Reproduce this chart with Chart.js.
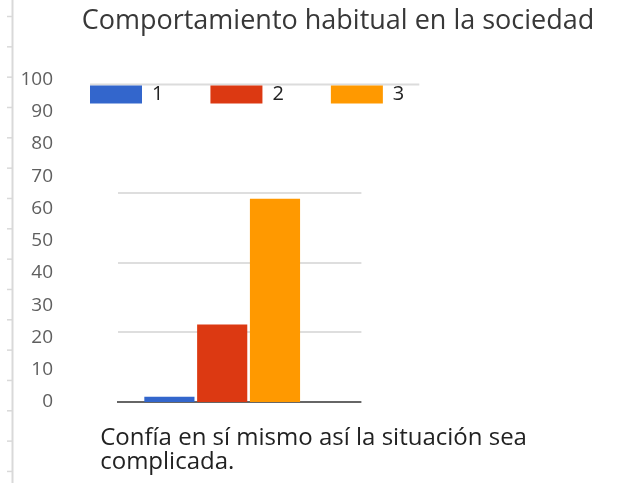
<!DOCTYPE html>
<html>
<head>
<meta charset="utf-8">
<script src="https://cdn.jsdelivr.net/npm/chart.js@4/dist/chart.umd.min.js"></script>
<style>
  html, body { margin: 0; padding: 0; background: #ffffff; }
  #wrap { width: 619px; height: 483px; position: relative; }
</style>
</head>
<body>
<div id="wrap"><canvas id="chart"></canvas></div>
<script>
// Chart content
const chartTitle = "Comportamiento habitual en la sociedad";
const categories = [["Confía en sí mismo así la situación sea", "complicada."]];
const seriesNames = ["1", "2", "3"];
const series1 = [1.6];
const series2 = [24];
const series3 = [63];
const seriesData = [series1, series2, series3];
const seriesColors = ["#3366cc", "#dc3912", "#ff9900"];

// Value axis
const yMin = 0;
const yMax = 100;
const yStep = 10;
// Horizontal guide lines across the plot
const guideValues = [0, 21.6, 43.2, 64.8];

// Layout offsets for the header pieces
const titleShift = 57;
const legendShift = 43;
const legendRowHeight = 80;

const decorPlugin = {
  id: "decor",
  afterLayout(chart) {
    // move the title and legend sideways, and let the legend row overlap the plot top
    const t = chart.titleBlock;
    if (t) { t.left += titleShift; t.width = t.right - t.left; }
    const lg = chart.legend;
    if (lg) {
      lg.left += legendShift;
      lg.width = lg.right - lg.left;
      lg.bottom = lg.top + legendRowHeight;
      lg.height = legendRowHeight;
    }
  },
  beforeDraw(chart) {
    const ctx = chart.ctx;
    const h = chart.height;
    ctx.save();
    // light ruler down the left edge
    ctx.strokeStyle = "#d9d9d9";
    ctx.lineWidth = 2;
    ctx.beginPath();
    ctx.moveTo(12.5, 0);
    ctx.lineTo(12.5, h);
    ctx.stroke();
    ctx.lineWidth = 1.5;
    for (let y = 16.5; y < h; y += 30.33) {
      ctx.beginPath();
      ctx.moveTo(7, y);
      ctx.lineTo(12, y);
      ctx.stroke();
    }
    // faint rule behind the legend row
    const boxes = chart.legend && chart.legend.legendHitBoxes;
    if (boxes && boxes.length) {
      const first = boxes[0];
      const last = boxes[boxes.length - 1];
      ctx.strokeStyle = "#dcdcdc";
      ctx.lineWidth = 2;
      ctx.beginPath();
      ctx.moveTo(first.left, first.top);
      ctx.lineTo(last.left + last.width + 15, first.top);
      ctx.stroke();
    }
    ctx.restore();
  }
};

new Chart(document.getElementById("chart"), {
  type: "bar",
  data: {
    labels: categories,
    datasets: seriesNames.map((name, i) => ({
      label: name,
      data: seriesData[i],
      backgroundColor: seriesColors[i],
      borderWidth: 0,
      categoryPercentage: 0.76,
      barPercentage: 0.95
    }))
  },
  options: {
    responsive: true,
    maintainAspectRatio: false,
    animation: false,
    layout: { padding: 0 },
    plugins: {
      title: {
        display: true,
        text: chartTitle,
        color: "#383838",
        font: { family: "'Open Sans', sans-serif", size: 27, weight: "normal", lineHeight: 1.2 },
        padding: { top: 5, bottom: 0 }
      },
      legend: {
        display: true,
        position: "top",
        align: "start",
        maxHeight: 1,
        labels: {
          boxWidth: 52,
          boxHeight: 18,
          padding: 47,
          color: "#222222",
          font: { family: "'Open Sans', sans-serif", size: 20 }
        }
      },
      tooltip: { enabled: false }
    },
    scales: {
      x: {
        position: "bottom",
        z: 1,
        grid: { display: false },
        border: { display: true, color: "#666666", width: 2 },
        ticks: {
          align: "start",
          labelOffset: -122,
          padding: 16,
          maxRotation: 0,
          minRotation: 0,
          autoSkip: false,
          color: "#222222",
          font: { family: "'Open Sans', sans-serif", size: 24, lineHeight: 1.0 }
        },
        afterFit(scale) { scale.height = 81; scale.paddingLeft = 0; scale.paddingRight = 0; }
      },
      xTop: {
        type: "category",
        position: "top",
        display: true,
        grid: { display: false },
        border: { display: false },
        ticks: { display: false },
        afterFit(scale) { scale.height = 41; scale.paddingLeft = 0; scale.paddingRight = 0; }
      },
      y: {
        position: "left",
        min: yMin,
        max: yMax,
        grid: { display: false },
        border: { display: false },
        ticks: {
          stepSize: yStep,
          padding: 57,
          color: "#5f5f5f",
          font: { family: "'Open Sans', sans-serif", size: 19 }
        },
        afterFit(scale) { scale.width = 118; }
      },
      yGuide: {
        position: "right",
        min: yMin,
        max: yMax,
        border: { display: false },
        ticks: { display: false },
        grid: {
          drawTicks: true,
          tickLength: 35,
          lineWidth: 2,
          color: (c) => (c.tick && c.tick.value === 0 ? "#666666" : "#dedede")
        },
        afterBuildTicks(scale) { scale.ticks = guideValues.map((v) => ({ value: v })); },
        afterFit(scale) { scale.width = 619 - 326.4; }
      }
    }
  },
  plugins: [decorPlugin]
});
</script>
</body>
</html>
